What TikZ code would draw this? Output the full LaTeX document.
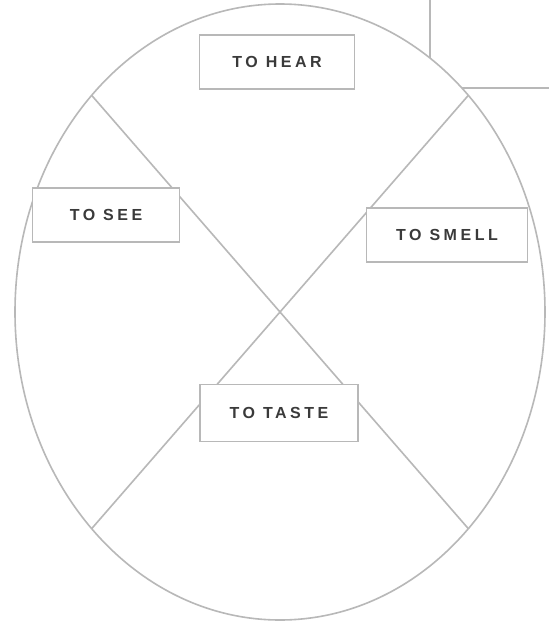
\documentclass[tikz,border=0pt]{standalone}
\usepackage{fontspec}
\usetikzlibrary{shapes.geometric}
\newfontfamily\labfont[LetterSpace=22]{Liberation Sans}
\definecolor{linegray}{HTML}{B8B8B8}
\definecolor{textgray}{HTML}{3A3A3A}
\tikzset{
  rim/.style={draw=linegray, line width=1.6pt},
  divider/.style={draw=linegray, line width=1.6pt},
  labelbox/.style={draw=linegray, line width=1.6pt, fill=white, rectangle,
    minimum height=54pt, inner sep=0pt, text=textgray,
    font=\labfont\bfseries\fontsize{16}{18}\selectfont}
}
\begin{document}
\begin{tikzpicture}[x=1pt,y=-1pt]
\useasboundingbox (0,0) rectangle (549,630);
\fill[white] (0,0) rectangle (549,630);
% partial frame in the top right corner
\draw[rim, fill=white] (430,-20) rectangle (575,88);
% the oval
\node[ellipse, rim, fill=white, minimum width=530pt, minimum height=616pt,
      inner sep=0pt, outer sep=0pt] (oval) at (280,312) {};
% the two dividers
\draw[divider] (oval.131) -- (oval.-49);
\draw[divider] (oval.49) -- (oval.229);
% labels
\node[labelbox, minimum width=155pt] (top) at (277,62) {TO HEAR};
\node[labelbox, minimum width=147pt] (left) at (106,215) {TO SEE};
\node[labelbox, minimum width=161pt] (right) at (447,235) {TO SMELL};
\node[labelbox, minimum width=158pt, minimum height=57pt] (bottom) at (279,413) {TO TASTE};
\end{tikzpicture}
\end{document}
